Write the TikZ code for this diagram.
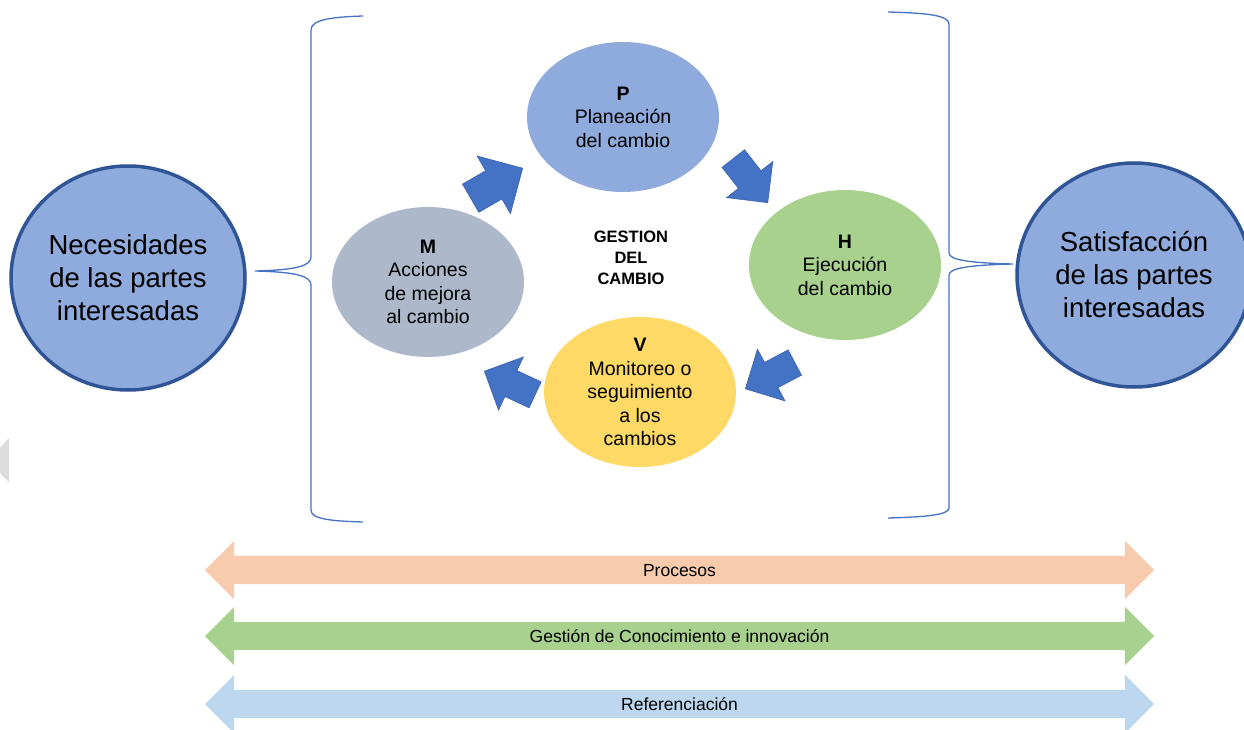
\documentclass[tikz,border=0pt]{standalone}
\usepackage{fontspec}
\setmainfont{Liberation Sans}
\usetikzlibrary{shapes.geometric,shapes.arrows,positioning}

\definecolor{partefill}{HTML}{8FAADC}
\definecolor{parteborde}{HTML}{2F5597}
\definecolor{planear}{HTML}{8FAADC}
\definecolor{hacer}{HTML}{A9D18E}
\definecolor{mejorar}{HTML}{ADB9CA}
\definecolor{verificar}{HTML}{FFD966}
\definecolor{flecha}{HTML}{4472C4}
\definecolor{flechaborde}{HTML}{3A62AD}
\definecolor{llavecolor}{HTML}{4472C4}
\definecolor{procesos}{HTML}{F8CBAD}
\definecolor{conocimiento}{HTML}{A9D18E}
\definecolor{referencia}{HTML}{BDD7EE}
\definecolor{gris}{HTML}{DCDCDC}

\begin{document}
\begin{tikzpicture}[x=1pt, y=-1pt]

    \tikzstyle{parte} = [ellipse, fill=partefill, draw=parteborde, line width=3.5pt, minimum width=234pt, minimum height=224pt, inner sep=0pt, align=center, font=\fontsize{27.5}{33}\selectfont]
    \tikzstyle{fase}  = [ellipse, minimum width=192pt, minimum height=150pt, inner sep=-8pt, align=center, font=\fontsize{19.5}{23.5}\selectfont]
    \tikzstyle{giro}  = [single arrow, fill=flecha, draw=flechaborde, line width=0.6pt, anchor=tip, inner sep=0pt, text height=28pt, text depth=0pt, single arrow head extend=15pt, minimum height=56pt]
    \tikzstyle{eje}   = [double arrow, double arrow head extend=15pt, minimum height=949pt, inner xsep=0pt, inner ysep=6pt, text height=14pt, text depth=2pt, font=\fontsize{17.5}{21}\selectfont]
    \tikzstyle{llave} = [draw=llavecolor, line width=1.3pt]

    \useasboundingbox (0,0) rectangle (1244,730);

    \fill[gris] (9,438) -- (9,482) -- (0,473) -- (0,448) -- cycle;

    \node (necesidades)  [parte] at (128,278)   {Necesidades\\de las partes\\interesadas};
    \node (satisfaccion) [parte] at (1134,275)  {Satisfacción\\de las partes\\interesadas};

    \node (gestion) [align=center, font=\bfseries\fontsize{16.5}{21}\selectfont] at (631,258) {GESTION\\DEL\\CAMBIO};

    \node (planeacion) [fase, fill=planear]   at (623,117) {\textbf{P}\\Planeación\\del cambio};
    \node (ejecucion)  [fase, fill=hacer]     at (845,265) {\textbf{H}\\Ejecución\\del cambio};
    \node (monitoreo)  [fase, fill=verificar] at (640,392) {\textbf{V}\\Monitoreo o\\seguimiento\\a los\\cambios};
    \node (acciones)   [fase, fill=mejorar]   at (428,282) {\textbf{M}\\Acciones\\de mejora\\al cambio};

    % flechas del ciclo
    \node (giroMP) [giro, rotate=30, text height=32pt, single arrow head extend=17pt, minimum height=60pt] at (523,168) {};
    \node (giroPH) [giro, rotate=-52] at (768,203) {};
    \node (giroHV) [giro, rotate=208] at (745,389) {};
    \node (giroVM) [giro, rotate=155] at (484,371) {};

    % llaves
    \draw[llave] (363,16) .. controls (330,17) and (311,20) .. (311,30) -- (311,257)
                 .. controls (311,266) and (296,270) .. (255,271)
                 .. controls (296,272) and (311,276) .. (311,285) -- (311,510)
                 .. controls (311,519) and (330,521) .. (363,522);
    \draw[llave] (888,12) .. controls (925,13) and (949,15) .. (949,24) -- (949,253)
                 .. controls (949,260) and (970,263) .. (1013,264)
                 .. controls (970,265) and (949,268) .. (949,275) -- (949,508)
                 .. controls (949,515) and (925,517) .. (888,518);

    % ejes transversales
    \node (procesosEje)     [eje, fill=procesos]                                   at (679.5,570) {Procesos};
    \node (conocimientoEje) [eje, fill=conocimiento, below=66pt of procesosEje.center, anchor=center] {Gestión de Conocimiento e innovación};
    \node (referenciaEje)   [eje, fill=referencia, below=68pt of conocimientoEje.center, anchor=center] {Referenciación};

\end{tikzpicture}
\end{document}
